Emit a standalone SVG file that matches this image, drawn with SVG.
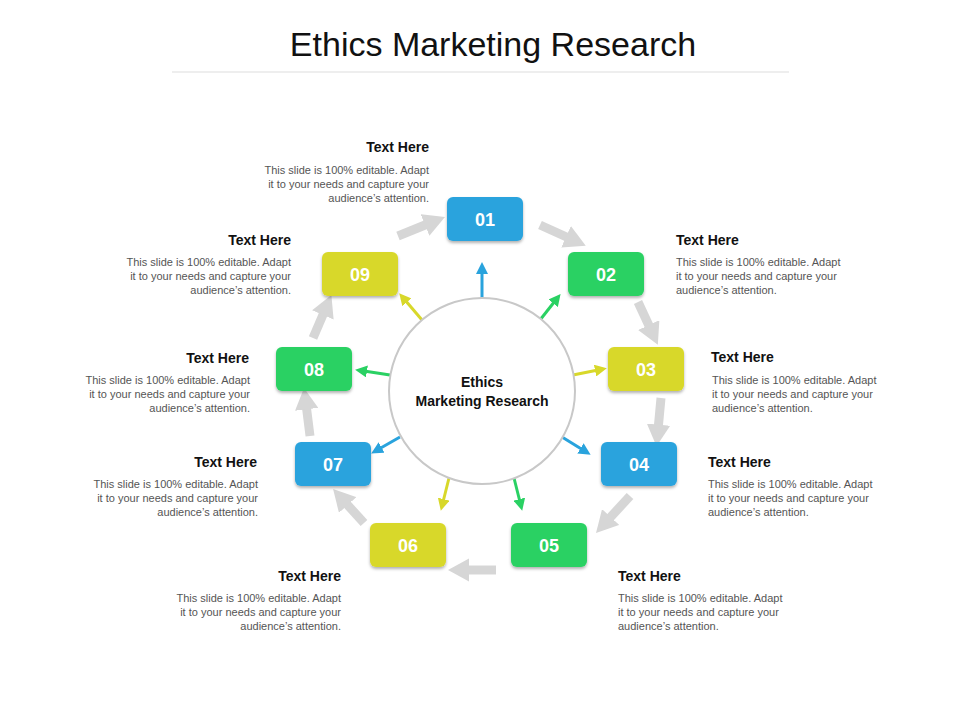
<svg xmlns="http://www.w3.org/2000/svg" width="960" height="720" viewBox="0 0 960 720">
<style>
text{font-family:"Liberation Sans",Arial,sans-serif}
.t{font-size:34px;fill:#111}
.h{font-size:14px;font-weight:bold;fill:#111}
.d{font-size:11px;fill:#555}
.n{font-size:18px;font-weight:bold;fill:#fff;text-anchor:middle}
.bl{fill:#29A3DD}.gr{fill:#2AD163}.ye{fill:#D8D82A}
.g{stroke:#D6D6D6;stroke-width:9;fill:none;marker-end:url(#ga)}
.rb{stroke:#29A3DD;stroke-width:3;marker-end:url(#ab)}
.rg{stroke:#2AD163;stroke-width:3;marker-end:url(#ag)}
.ry{stroke:#D8D82A;stroke-width:3;marker-end:url(#ay)}
</style>
<defs>
<marker id="ga" markerWidth="2.4" markerHeight="2.6" refX="0.6" refY="1.3" orient="auto"><path d="M0,0 L2.4,1.3 L0,2.6 Z" fill="#D6D6D6"/></marker>
<marker id="ab" markerWidth="4" markerHeight="4" refX="1" refY="2" orient="auto"><path d="M0,0 L4,2 L0,4 Z" fill="#29A3DD"/></marker>
<marker id="ag" markerWidth="4" markerHeight="4" refX="1" refY="2" orient="auto"><path d="M0,0 L4,2 L0,4 Z" fill="#2AD163"/></marker>
<marker id="ay" markerWidth="4" markerHeight="4" refX="1" refY="2" orient="auto"><path d="M0,0 L4,2 L0,4 Z" fill="#D8D82A"/></marker>
<filter id="sh" x="-20%" y="-20%" width="140%" height="150%"><feDropShadow dx="0" dy="2" stdDeviation="1.5" flood-opacity="0.3"/></filter>
</defs>
<text class="t" x="493" y="56" text-anchor="middle">Ethics Marketing Research</text>
<line x1="172" y1="72" x2="789" y2="72" stroke="#ddd" stroke-width="1"/>
<g id="connectors">
<path class="g" d="M398,236 L430,223"/>
<path class="g" d="M540,225 L571,239"/>
<path class="g" d="M638,302 L651,330"/>
<path class="g" d="M661,398 L658,430"/>
<path class="g" d="M630,496 L607,521"/>
<path class="g" d="M496,570 L464,570"/>
<path class="g" d="M364,523 L344,501"/>
<path class="g" d="M310,436 L306,404"/>
<path class="g" d="M313,338 L325,310"/>
<path class="rb" d="M482,298 L482,271"/>
<path class="rg" d="M540,320 L555,301"/>
<path class="ry" d="M573,375 L598,370"/>
<path class="rb" d="M562,437 L583,450"/>
<path class="rg" d="M514,478 L520,502"/>
<path class="ry" d="M449,478 L443,502"/>
<path class="rb" d="M400,437 L379,449"/>
<path class="rg" d="M390,375 L364,371"/>
<path class="ry" d="M422,320 L405,300"/>
</g>
<g id="center"><circle cx="482" cy="391" r="93" fill="#fff" stroke="#C8C8C8" stroke-width="2"/>
<text x="482" y="387" font-size="14" font-weight="bold" text-anchor="middle" fill="#111">Ethics</text>
<text x="482" y="406" font-size="14" font-weight="bold" text-anchor="middle" fill="#111">Marketing Research</text></g>
<g id="n01"><rect class="bl" x="447" y="197" width="76" height="44" rx="6" filter="url(#sh)"/><text class="n" x="485" y="226">01</text></g>
<g id="n02"><rect class="gr" x="568" y="252" width="76" height="44" rx="6" filter="url(#sh)"/><text class="n" x="606" y="281">02</text></g>
<g id="n03"><rect class="ye" x="608" y="347" width="76" height="44" rx="6" filter="url(#sh)"/><text class="n" x="646" y="376">03</text></g>
<g id="n04"><rect class="bl" x="601" y="442" width="76" height="44" rx="6" filter="url(#sh)"/><text class="n" x="639" y="471">04</text></g>
<g id="n05"><rect class="gr" x="511" y="523" width="76" height="44" rx="6" filter="url(#sh)"/><text class="n" x="549" y="552">05</text></g>
<g id="n06"><rect class="ye" x="370" y="523" width="76" height="44" rx="6" filter="url(#sh)"/><text class="n" x="408" y="552">06</text></g>
<g id="n07"><rect class="bl" x="295" y="442" width="76" height="44" rx="6" filter="url(#sh)"/><text class="n" x="333" y="471">07</text></g>
<g id="n08"><rect class="gr" x="276" y="347" width="76" height="44" rx="6" filter="url(#sh)"/><text class="n" x="314" y="376">08</text></g>
<g id="n09"><rect class="ye" x="322" y="252" width="76" height="44" rx="6" filter="url(#sh)"/><text class="n" x="360" y="281">09</text></g>
<g id="labels">
<g text-anchor="end">
<text class="h" x="429" y="152">Text Here</text><text class="d" x="429" y="174">This slide is 100% editable. Adapt</text><text class="d" x="429" y="188">it to your needs and capture your</text><text class="d" x="429" y="202">audience’s attention.</text>
<text class="h" x="291" y="245">Text Here</text><text class="d" x="291" y="266">This slide is 100% editable. Adapt</text><text class="d" x="291" y="280">it to your needs and capture your</text><text class="d" x="291" y="294">audience’s attention.</text>
<text class="h" x="249" y="363">Text Here</text><text class="d" x="250" y="384">This slide is 100% editable. Adapt</text><text class="d" x="250" y="398">it to your needs and capture your</text><text class="d" x="250" y="412">audience’s attention.</text>
<text class="h" x="257" y="467">Text Here</text><text class="d" x="258" y="488">This slide is 100% editable. Adapt</text><text class="d" x="258" y="502">it to your needs and capture your</text><text class="d" x="258" y="516">audience’s attention.</text>
<text class="h" x="341" y="581">Text Here</text><text class="d" x="341" y="602">This slide is 100% editable. Adapt</text><text class="d" x="341" y="616">it to your needs and capture your</text><text class="d" x="341" y="630">audience’s attention.</text>
</g>
<text class="h" x="676" y="245">Text Here</text><text class="d" x="676" y="266">This slide is 100% editable. Adapt</text><text class="d" x="676" y="280">it to your needs and capture your</text><text class="d" x="676" y="294">audience’s attention.</text>
<text class="h" x="711" y="362">Text Here</text><text class="d" x="712" y="384">This slide is 100% editable. Adapt</text><text class="d" x="712" y="398">it to your needs and capture your</text><text class="d" x="712" y="412">audience’s attention.</text>
<text class="h" x="708" y="467">Text Here</text><text class="d" x="708" y="488">This slide is 100% editable. Adapt</text><text class="d" x="708" y="502">it to your needs and capture your</text><text class="d" x="708" y="516">audience’s attention.</text>
<text class="h" x="618" y="581">Text Here</text><text class="d" x="618" y="602">This slide is 100% editable. Adapt</text><text class="d" x="618" y="616">it to your needs and capture your</text><text class="d" x="618" y="630">audience’s attention.</text>
</g>
</svg>
